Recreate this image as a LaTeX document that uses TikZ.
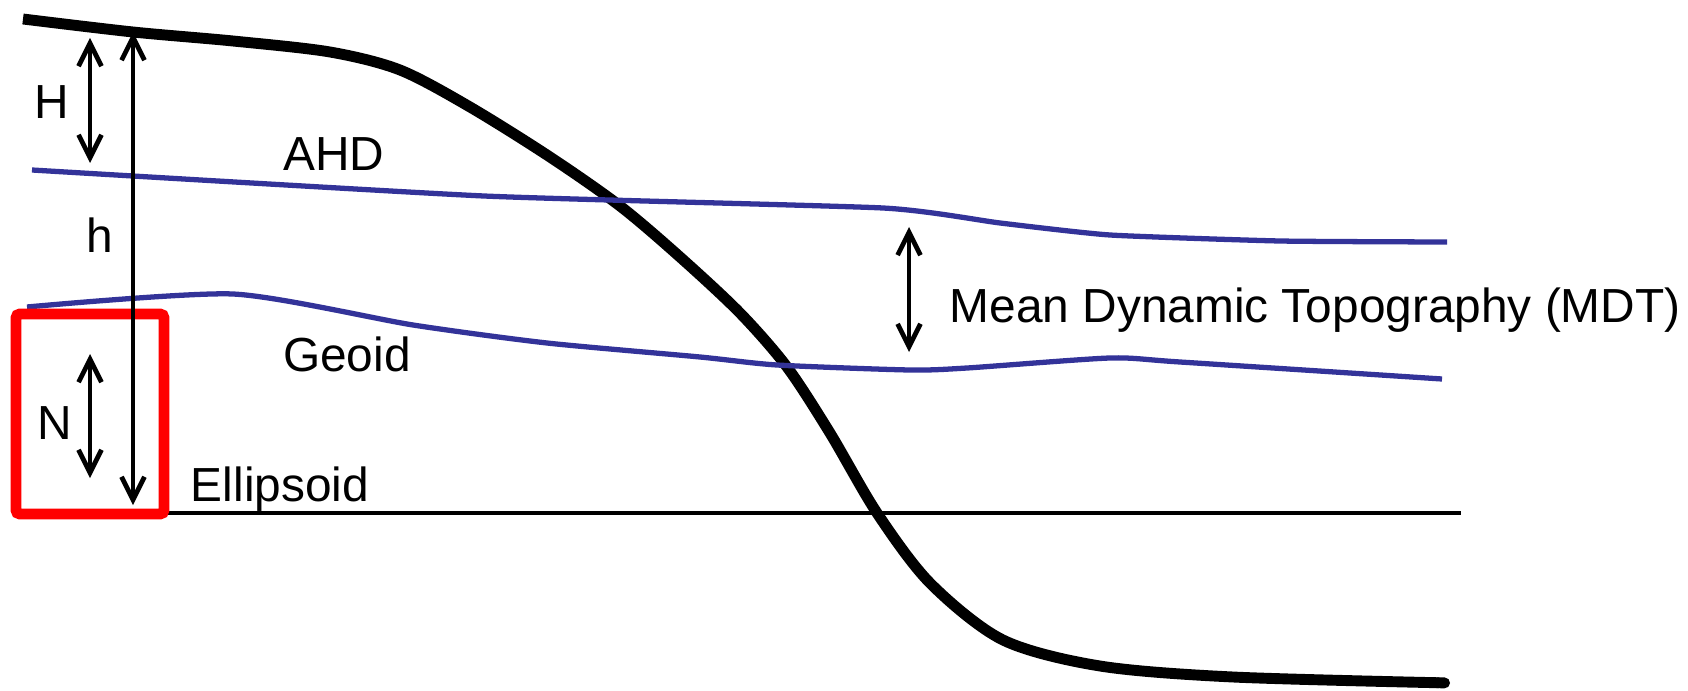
\documentclass[tikz,border=0pt]{standalone}
\usepackage{fontspec}
\setmainfont{Liberation Sans}
\usetikzlibrary{arrows.meta}

\definecolor{azulNivel}{RGB}{51,51,153}

\newcommand{\coordAlturas}{
\coordinate (Hs) at (90,38);
\coordinate (Hi) at (90,163);
\coordinate (hs) at (133,32);
\coordinate (hi) at (133,505);
\coordinate (Ns) at (90,354);
\coordinate (Ni) at (90,478);
\coordinate (Ms) at (909,227);
\coordinate (Mi) at (909,352);
\coordinate (E0) at (160,513);
\coordinate (E1) at (1461,513);
}
\newcommand{\etiquetasAlturas}{
\node[etiqueta] (lblH) at (52,119) {H};
\node[etiqueta] (lblh) at (100,252) {h};
\node[etiqueta] (lblN) at (55,439) {N};
\node[etiqueta] (lblAHD) at (334,170) {AHD};
\node[etiqueta] (lblGeoide) at (347,371) {Geoid};
\node[etiqueta] (lblElipsoide) at (280,501) {Ellipsoid};
\node[etiqueta,anchor=base west] (lblMDT) at (949,322) {Mean Dynamic Topography (MDT)};
}
\tikzset{
terreno/.style={black,line width=3.1pt,-{Round Cap[]}},
nivel/.style={azulNivel,line width=1.5pt},
elipsoide/.style={black,line width=1.4pt},
flecha/.style={<->,>={Straight Barb[length=6.5pt,width=6.5pt]},line width=1.35pt},
marco/.style={red,line width=3pt,rounded corners=1pt},
etiqueta/.style={anchor=base,inner sep=0pt,font=\fontsize{13.6pt}{16pt}\selectfont}
}

\begin{document}
\begin{tikzpicture}[x=0.01cm,y=-0.01cm]
    \useasboundingbox (0,0) rectangle (1688,691);
    \coordAlturas

    \draw[terreno] plot[smooth,tension=0.5] coordinates {(23,19) (133,32) (233,41) (330,52) (400,70) (470,107) (550,157) (620,206) (680,257) (740,313) (787,367) (830,433) (877,513) (930,583) (1003,640) (1100,666) (1233,677) (1450,683)};

    \draw[nivel] plot[smooth,tension=0.3] coordinates {(32,170) (484,196) (883,208) (1000,223) (1110,235) (1280,241) (1447,242)};
    \draw[nivel] plot[smooth,tension=0.4] coordinates {(27,307) (233,294) (413,325) (547,343) (700,357) (777,365) (910,370) (967,368) (1110,358) (1180,362) (1442,379)};

    \draw[elipsoide] (E0)--(E1);
    \draw[marco] (16,314) rectangle (164,514);

    \draw[flecha] (Hs)--(Hi);
    \draw[flecha] (hs)--(hi);
    \draw[flecha] (Ns)--(Ni);
    \draw[flecha] (Ms)--(Mi);

    \etiquetasAlturas
\end{tikzpicture}
\end{document}
